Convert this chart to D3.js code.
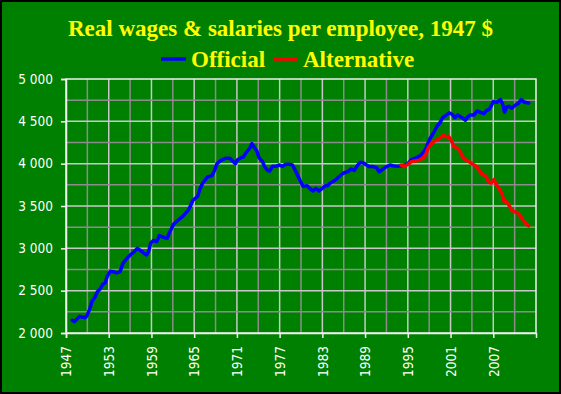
<!DOCTYPE html>
<html>
<head>
<meta charset="utf-8">
<script src="https://cdn.jsdelivr.net/npm/d3@7"></script>
<style>
  body { margin: 0; background: #fff; }
  svg { display: block; }
</style>
</head>
<body>
<div id="chart"></div>
<script>
// chart values
var officialYear = [1947.9, 1948.2, 1948.9, 1949.25, 1949.7, 1949.9, 1950.3, 1950.65, 1951.1, 1951.4,
  1951.8, 1952.15, 1952.5, 1952.8, 1953.2, 1953.65, 1954.1, 1954.6, 1954.97, 1955.4,
  1956.1, 1956.5, 1957.0, 1957.3, 1957.9, 1958.3, 1958.6, 1958.9, 1959.3, 1959.75,
  1960.1, 1960.8, 1961.2, 1961.5, 1962.1, 1962.6, 1963.4, 1964.15, 1964.5, 1964.8,
  1965.5, 1965.8, 1966.2, 1966.9, 1967.5, 1967.9, 1968.2, 1968.75, 1969.4, 1970.0,
  1970.4, 1970.8, 1971.1, 1971.6, 1971.9, 1972.4, 1972.8, 1973.1, 1973.4, 1973.8,
  1974.1, 1974.6, 1974.9, 1975.3, 1975.6, 1976.0, 1976.5, 1976.9, 1977.4, 1977.8,
  1978.4, 1978.8, 1979.2, 1979.5, 1979.9, 1980.3, 1980.85, 1981.3, 1981.7, 1982.1,
  1982.5, 1983.0, 1983.4, 1983.75, 1984.1, 1984.6, 1985.1, 1985.5, 1986.0, 1986.6,
  1987.0, 1987.5, 1987.97, 1988.35, 1988.8, 1989.2, 1989.6, 1990.0, 1990.6, 1990.97,
  1991.4, 1991.9, 1992.5, 1992.9, 1993.5, 1994.1, 1994.5, 1995.0, 1995.5, 1996.0,
  1996.6, 1997.1, 1997.5, 1997.8, 1998.2, 1998.65, 1999.1, 1999.5, 1999.9, 2000.3,
  2000.8, 2001.2, 2001.6, 2002.0, 2002.6, 2003.1, 2003.4, 2003.8, 2004.3, 2004.75,
  2005.2, 2005.7, 2006.1, 2006.4, 2006.7, 2007.0, 2007.5, 2008.0, 2008.3, 2008.6,
  2008.9, 2009.25, 2009.6, 2010.0, 2010.5, 2010.9, 2011.4, 2011.97]
var officialValue = [2150, 2134, 2197, 2189, 2181, 2197, 2276, 2374, 2425, 2488,
  2520, 2575, 2590, 2669, 2728, 2724, 2709, 2724, 2819, 2866,
  2929, 2953, 3000, 2984, 2945, 2921, 2961, 3063, 3094, 3079,
  3150, 3126, 3118, 3181, 3283, 3323, 3378, 3449, 3504, 3567,
  3614, 3700, 3772, 3843, 3858, 3929, 4000, 4039, 4063, 4063,
  4031, 4000, 4047, 4071, 4079, 4142, 4181, 4236, 4197, 4150,
  4071, 4024, 3961, 3921, 3913, 3969, 3969, 3984, 3969, 3992,
  3992, 3984, 3921, 3866, 3795, 3732, 3740, 3701, 3677, 3709,
  3677, 3709, 3740, 3740, 3772, 3795, 3827, 3858, 3890, 3906,
  3937, 3921, 3984, 4016, 4008, 3984, 3965, 3968, 3953, 3905,
  3929, 3960, 3984, 3976, 3968, 3976, 3984, 4000, 4047, 4063,
  4087, 4126, 4174, 4237, 4308, 4371, 4442, 4481, 4544, 4568,
  4600, 4584, 4544, 4576, 4544, 4513, 4552, 4576, 4576, 4623,
  4607, 4591, 4631, 4639, 4678, 4733, 4725, 4756, 4709, 4607,
  4670, 4678, 4654, 4686, 4709, 4756, 4725, 4717]

var altYear = [1994.06, 1994.5, 1995.0, 1995.5, 1996.0, 1996.6, 1997.1, 1997.5, 1997.9, 1998.3,
  1998.75, 1999.2, 1999.6, 1999.95, 2000.3, 2000.7, 2001.1, 2001.45, 2001.9, 2002.3,
  2002.7, 2003.2, 2003.6, 2004.0, 2004.5, 2004.85, 2005.2, 2005.6, 2006.0, 2006.3,
  2006.7, 2007.1, 2007.4, 2007.8, 2008.2, 2008.5, 2008.9, 2009.25, 2009.6, 2010.0,
  2010.5, 2010.85, 2011.2, 2011.6, 2011.97]
var altValue = [3984, 3968, 3992, 4024, 4032, 4040, 4063, 4103, 4190, 4237,
  4268, 4284, 4308, 4340, 4316, 4324, 4276, 4205, 4189, 4150,
  4079, 4040, 4024, 4000, 3976, 3945, 3897, 3866, 3850, 3787,
  3771, 3811, 3755, 3708, 3653, 3558, 3550, 3503, 3447, 3432,
  3416, 3376, 3329, 3290, 3266]

var yTicks = [2000, 2500, 3000, 3500, 4000, 4500, 5000]
var xTicks = [1947, 1953, 1959, 1965, 1971, 1977, 1983, 1989, 1995, 2001, 2007]
var seriesNames = ['Official', 'Alternative']
var seriesColors = ['#0000ff', '#ff0000']

var width = 561
var height = 394
var margin = { top: 79, right: 25, bottom: 61, left: 66 }

var svg = d3.select('#chart')
  .append('svg')
  .attr('width', width)
  .attr('height', height)

// green background with black frame
svg.append('rect')
  .attr('x', 1).attr('y', 1)
  .attr('width', width - 2).attr('height', height - 2)
  .attr('fill', '#008000')
  .attr('stroke', '#000')
  .attr('stroke-width', 2)

var x = d3.scaleLinear().domain([1947, 2013]).range([margin.left, width - margin.right])
var y = d3.scaleLinear().domain([2000, 5000]).range([height - margin.bottom, margin.top])

// grid: minor lines every 3 years / 250, major every 6 years / 500
var grid = svg.append('g')
grid.selectAll('.vgrid')
  .data(d3.range(1950, 2013, 3))
  .enter()
  .append('line')
  .attr('x1', d => x(d)).attr('x2', d => x(d))
  .attr('y1', y(2000)).attr('y2', y(5000))
  .attr('stroke', d => (d - 1947) % 6 == 0 ? '#c8c8c8' : '#8c8c8c')
  .attr('stroke-width', 1.5)
grid.selectAll('.hgrid')
  .data(d3.range(2250, 5000, 250))
  .enter()
  .append('line')
  .attr('x1', x(1947)).attr('x2', x(2013))
  .attr('y1', d => y(d)).attr('y2', d => y(d))
  .attr('stroke', d => d % 500 == 0 ? '#c8c8c8' : '#8c8c8c')
  .attr('stroke-width', 1.5)

// plot frame
svg.append('rect')
  .attr('x', x(1947)).attr('y', y(5000))
  .attr('width', x(2013) - x(1947)).attr('height', y(2000) - y(5000))
  .attr('fill', 'none')
  .attr('stroke', '#f0f0f0')
  .attr('stroke-width', 1.5)

// axes
var yAxis = svg.append('g')
  .attr('transform', 'translate(' + x(1947) + ',0)')
  .call(d3.axisLeft(y).tickValues(yTicks).tickSize(5).tickPadding(8)
    .tickFormat(d => d3.format(',')(d).replace(',', ' ')))
var xAxis = svg.append('g')
  .attr('transform', 'translate(0,' + y(2000) + ')')
  .call(d3.axisBottom(x).tickValues(xTicks).tickSize(5).tickFormat(d => String(d)))

;[xAxis, yAxis].forEach(function (a) {
  a.select('.domain').attr('stroke', '#f0f0f0').attr('stroke-width', 1.5)
  a.selectAll('.tick line').attr('stroke', '#f0f0f0').attr('stroke-width', 1.5)
  a.selectAll('text')
    .attr('fill', '#fff')
    .style('font-family', '"DejaVu Sans Condensed", "DejaVu Sans", sans-serif')
    .style('font-size', '13.5px')
})
xAxis.selectAll('text')
  .attr('transform', 'rotate(-90)')
  .attr('text-anchor', 'end')
  .attr('x', -13)
  .attr('y', 0)
  .attr('dy', '0.35em')

// lines
var line = d3.line()
  .x(d => x(d[0]))
  .y(d => y(d[1]))

var officialData = d3.zip(officialYear, officialValue)
var altData = d3.zip(altYear, altValue)

svg.append('path')
  .datum(officialData)
  .attr('d', line)
  .attr('fill', 'none')
  .attr('stroke', seriesColors[0])
  .attr('stroke-width', 3.5)
  .attr('stroke-linejoin', 'round')
  .attr('stroke-linecap', 'round')

svg.append('path')
  .datum(altData)
  .attr('d', line)
  .attr('fill', 'none')
  .attr('stroke', seriesColors[1])
  .attr('stroke-width', 3.5)
  .attr('stroke-linejoin', 'round')
  .attr('stroke-linecap', 'round')

// title
svg.append('text')
  .attr('x', width / 2)
  .attr('y', 36)
  .attr('text-anchor', 'middle')
  .attr('fill', '#ffff00')
  .style('font-family', 'Liberation Serif, Times New Roman, serif')
  .style('font-weight', 'bold')
  .style('font-size', '23px')
  .text('Real wages & salaries per employee, 1947 $')

// legend
var legendX = [161, 273]
var legend = svg.selectAll('.legend')
  .data(seriesNames)
  .enter()
  .append('g')
  .attr('transform', (d, i) => 'translate(' + legendX[i] + ',59)')
legend.append('line')
  .attr('x1', 0).attr('x2', 25)
  .attr('stroke', (d, i) => seriesColors[i])
  .attr('stroke-width', 3.5)
legend.append('text')
  .attr('x', 30)
  .attr('y', 8)
  .attr('fill', '#ffff00')
  .style('font-family', 'Liberation Serif, Times New Roman, serif')
  .style('font-weight', 'bold')
  .style('font-size', '23px')
  .text(d => d)
</script>
</body>
</html>
